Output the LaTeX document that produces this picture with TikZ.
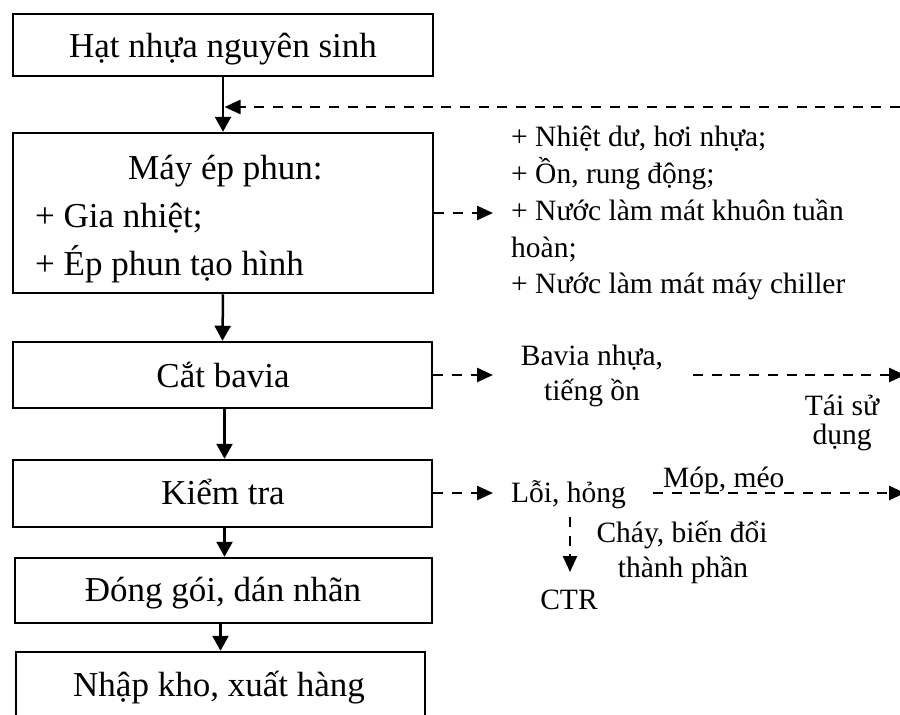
\documentclass[tikz,border=0pt]{standalone}
\usepackage{fontspec}
\setmainfont{Liberation Serif}
\usetikzlibrary{arrows.meta}
\begin{document}
\begin{tikzpicture}[x=1pt,y=-1pt,
  stage/.style={draw, line width=2.5pt, inner sep=0pt},
  big/.style={inner sep=0pt, font=\fontsize{35}{42}\selectfont},
  note/.style={inner sep=0pt, font=\fontsize{29.5}{36}\selectfont},
  flow/.style={line width=2.5pt, -{Triangle[length=15pt,width=16pt]}},
  waste/.style={line width=2.5pt, dash pattern=on 10pt off 8.7pt,
                -{Triangle[length=16pt,width=14pt]}},
]
\path[use as bounding box, clip] (0,0) rectangle (900,715);

% ---- process column ----
\node[stage, minimum width=420pt, minimum height=62pt] (raw) at (223,45) {};
\node[big, anchor=base] (rawt) at (223,57) {Hạt nhựa nguyên sinh};

\node[stage, minimum width=420pt, minimum height=160pt] (press) at (223,213) {};
\node[big, anchor=base west] (presst) at (128,179) {Máy ép phun:};
\node[big, anchor=base west] (heat) at (35,227) {+ Gia nhiệt;};
\node[big, anchor=base west] (mould) at (35,275) {+ Ép phun tạo hình};

\node[stage, minimum width=419pt, minimum height=66pt] (trim) at (222.5,375) {};
\node[big, anchor=base] (trimt) at (223,387) {Cắt bavia};

\node[stage, minimum width=419pt, minimum height=67pt] (check) at (222.5,493.5) {};
\node[big, anchor=base] (checkt) at (223,504) {Kiểm tra};

\node[stage, minimum width=417pt, minimum height=65pt] (pack) at (223.5,590.5) {};
\node[big, anchor=base] (packt) at (223,601) {Đóng gói, dán nhãn};

\node[stage, minimum width=409pt, minimum height=120pt] (store) at (220.5,712) {};
\node[big, anchor=base] (storet) at (219,696) {Nhập kho, xuất hàng};

\draw[flow] (raw.south) -- (press.north);
\draw[flow] (press.south) -- (trim.north);
\draw[flow] ([xshift=2pt]trim.south) -- ([xshift=2pt]check.north);
\draw[flow] ([xshift=2pt]check.south) -- ([xshift=1pt]pack.north);
\draw[flow] (store.north |- pack.south) -- (store.north);

% ---- recycled material back into the press feed ----
\coordinate (fbR) at (900,107);
\draw[waste] (fbR) -- ([xshift=1.5pt]raw.south |- fbR);

% ---- emissions of the injection press ----
\coordinate (emisIn) at (493,213);
\draw[waste] (press.east |- emisIn) -- (emisIn);
\node[note, anchor=base west] (emis1) at (511,146) {+ Nhiệt dư, hơi nhựa;};
\node[note, anchor=base west] (emis2) at (511,183) {+ Ồn, rung động;};
\node[note, anchor=base west] (emis3) at (511,220) {+ Nước làm mát khuôn tuần};
\node[note, anchor=base west] (emis4) at (511,257) {hoàn;};
\node[note, anchor=base west] (emis5) at (511,293) {+ Nước làm mát máy chiller};

% ---- deburring ----
\coordinate (burrIn) at (493,375);
\draw[waste] (trim.east |- burrIn) -- (burrIn);
\node[note, anchor=base] (burr1) at (592,365) {Bavia nhựa,};
\node[note, anchor=base] (burr2) at (592,400) {tiếng ồn};
\coordinate (reuseA) at (693,375);
\coordinate (reuseB) at (905,375);
\draw[waste] (reuseA) -- (reuseB);
\node[note, anchor=base] (reuse1) at (842,415) {Tái sử};
\node[note, anchor=base] (reuse2) at (842,444) {dụng};

% ---- inspection ----
\coordinate (defIn) at (493,493);
\draw[waste] (check.east |- defIn) -- (defIn);
\node[note, anchor=base west] (defect) at (511,502) {Lỗi, hỏng};
\coordinate (dentA) at (653,493);
\coordinate (dentB) at (905,493);
\draw[waste] (dentA) -- (dentB);
\node[note, anchor=base west] (dent) at (663,487) {Móp, méo};
\node[note, anchor=base] (burnt1) at (682,542) {Cháy, biến đổi};
\node[note, anchor=base] (burnt2) at (683,577) {thành phần};
\node[note, anchor=base] (ctr) at (569,609) {CTR};
\coordinate (ctrTop) at (570,517);
\coordinate (ctrIn) at (570,572);
\draw[waste] (ctrTop) -- (ctrIn);
\end{tikzpicture}
\end{document}
